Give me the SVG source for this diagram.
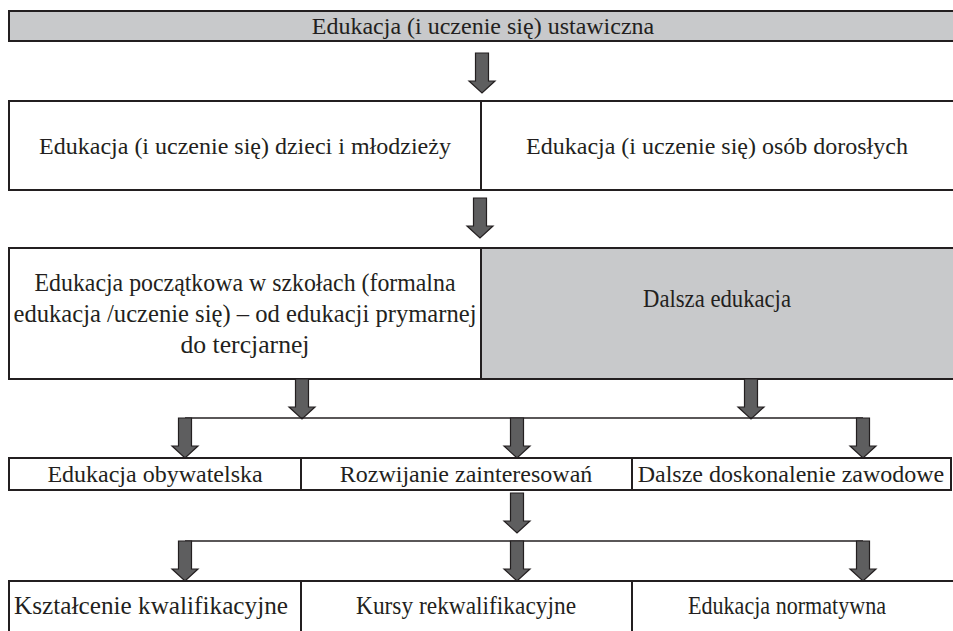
<svg xmlns="http://www.w3.org/2000/svg" width="953" height="631" viewBox="0 0 953 631">
<style>
.box{fill:#ffffff;stroke:#231f20;stroke-width:2}
.gray{fill:#c8c9cb;stroke:#231f20;stroke-width:2}
.t{font-family:"Liberation Serif","Times New Roman",serif;font-size:24px;fill:#231f20;text-anchor:middle}
.c{font-family:"Liberation Serif","Times New Roman",serif;font-size:25px;fill:#231f20;text-anchor:middle}
.arr{fill:#5e5e5f;stroke:#231f20;stroke-width:1.2;stroke-linejoin:miter}
.ln{fill:none;stroke:#231f20;stroke-width:1.6}
</style>
<defs>
<path id="a" class="arr" d="M-6.5 0 H6.5 V28 H13 L0 40 L-13 28 H-6.5 Z"/>
</defs>
<g id="n-ustawiczna">
<rect class="gray" x="9" y="11" width="950" height="30"/>
<text class="t" x="483" y="34">Edukacja (i uczenie się) ustawiczna</text>
</g>
<g id="n-dzieci">
<rect class="box" x="9" y="101" width="472" height="89"/>
<text class="t" x="245" y="154">Edukacja (i uczenie się) dzieci i młodzieży</text>
</g>
<g id="n-dorosli">
<rect class="box" x="481" y="101" width="478" height="89"/>
<text class="t" x="717" y="154">Edukacja (i uczenie się) osób dorosłych</text>
</g>
<g id="n-poczatkowa">
<rect class="box" x="9" y="248" width="472" height="131"/>
<text class="c" x="245" y="291" textLength="421" lengthAdjust="spacingAndGlyphs">Edukacja początkowa w szkołach (formalna</text>
<text class="c" x="245" y="322" textLength="463" lengthAdjust="spacingAndGlyphs">edukacja /uczenie się) – od edukacji prymarnej</text>
<text class="c" x="245" y="353" textLength="129" lengthAdjust="spacingAndGlyphs">do tercjarnej</text>
</g>
<g id="n-dalsza">
<rect class="gray" x="481" y="248" width="478" height="131"/>
<text class="c" x="717" y="307" textLength="148" lengthAdjust="spacingAndGlyphs">Dalsza edukacja</text>
</g>
<g id="n-obywatelska">
<rect class="box" x="9" y="458" width="292" height="32"/>
<text class="t" x="155" y="482">Edukacja obywatelska</text>
</g>
<g id="n-zainteresowania">
<rect class="box" x="301" y="458" width="331" height="32"/>
<text class="t" x="466" y="482">Rozwijanie zainteresowań</text>
</g>
<g id="n-zawodowe">
<rect class="box" x="632" y="458" width="319" height="32"/>
<text class="t" x="791" y="482">Dalsze doskonalenie zawodowe</text>
</g>
<g id="n-kwalifikacyjne">
<rect class="box" x="9" y="581" width="292" height="60"/>
<text class="c" x="151" y="614" textLength="274" lengthAdjust="spacingAndGlyphs">Kształcenie kwalifikacyjne</text>
</g>
<g id="n-rekwalifikacyjne">
<rect class="box" x="301" y="581" width="331" height="60"/>
<text class="c" x="466" y="614" textLength="220" lengthAdjust="spacingAndGlyphs">Kursy rekwalifikacyjne</text>
</g>
<g id="n-normatywna">
<rect class="box" x="632" y="581" width="327" height="60"/>
<text class="c" x="787" y="614" textLength="198" lengthAdjust="spacingAndGlyphs">Edukacja normatywna</text>
</g>
<g id="connectors">
<use href="#a" x="482" y="53"/>
<use href="#a" x="480" y="198"/>
<use href="#a" x="302" y="379"/>
<use href="#a" x="751" y="379"/>
<path class="ln" d="M185 418 H863"/>
<use href="#a" x="185" y="418"/>
<use href="#a" x="517" y="418"/>
<use href="#a" x="863" y="418"/>
<use href="#a" x="517" y="493"/>
<path class="ln" d="M185 541 H863"/>
<use href="#a" x="185" y="541"/>
<use href="#a" x="517" y="541"/>
<use href="#a" x="863" y="541"/>
</g>
</svg>
